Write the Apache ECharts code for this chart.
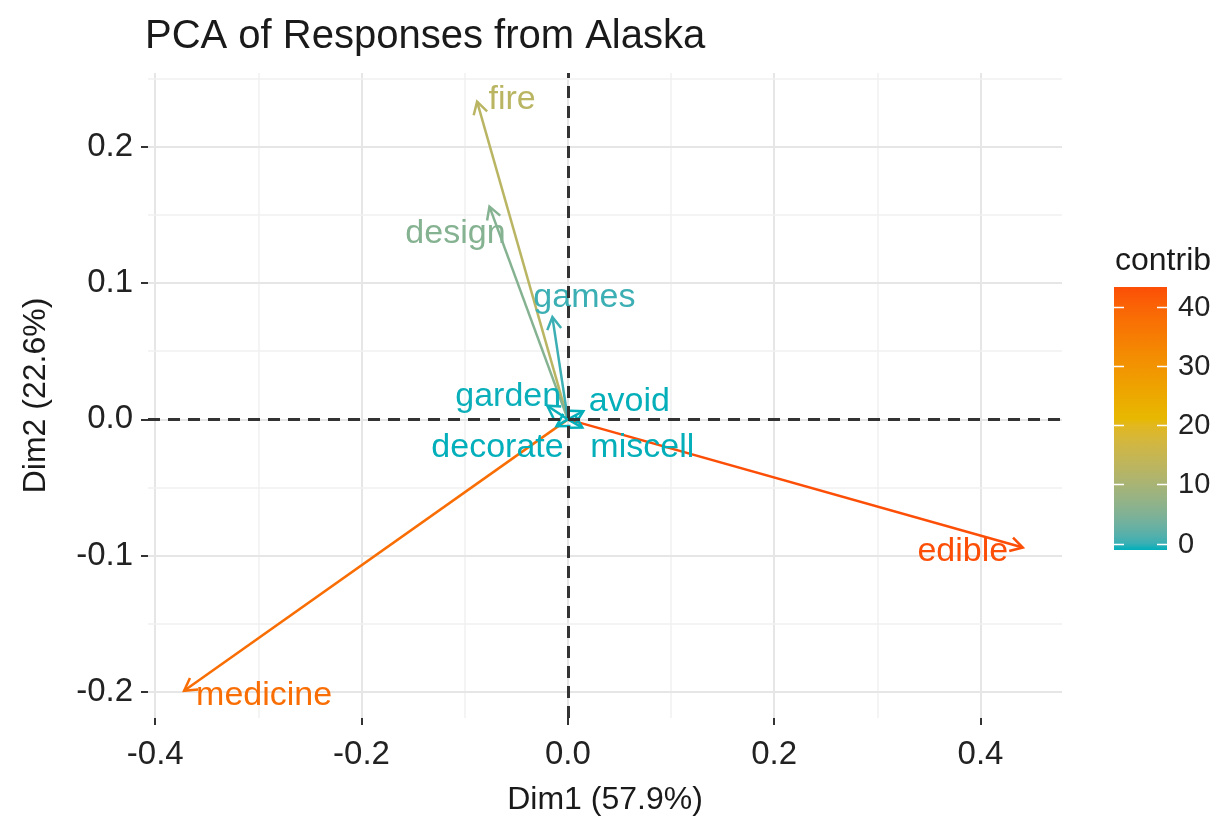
<!DOCTYPE html>
<html>
<head>
<meta charset="utf-8">
<title>PCA of Responses from Alaska</title>
<script src="https://cdn.jsdelivr.net/npm/echarts@6/dist/echarts.min.js"></script>
<style>
    html, body { margin: 0; padding: 0; background: #fff; }
    #chart { width: 1218px; height: 821px; }
</style>
</head>
<body>
<div id="chart"></div>
<script>
// variables (arrow tips)
var variables = ['edible', 'medicine', 'fire', 'design', 'games', 'garden', 'avoid', 'decorate', 'miscell'];
var dim1 = [0.441, -0.372, -0.088, -0.076, -0.015, -0.020, 0.015, -0.011, 0.014];
var dim2 = [-0.094, -0.199, 0.233, 0.156, 0.075, 0.010, 0.006, -0.005, -0.006];
var contrib = [42.2, 37.1, 12.9, 6.3, 1.2, 0.2, 0.1, 0.05, 0.1];

// axis breaks
var xTicks = [-0.4, -0.2, 0, 0.2, 0.4];
var xMinor = [-0.3, -0.1, 0.1, 0.3];
var yTicks = [-0.2, -0.1, 0, 0.1, 0.2];
var yMinor = [-0.15, -0.05, 0.05, 0.15, 0.25];
var legendTicks = [0, 10, 20, 30, 40];

// label nudges in px (repel placement), style only
var labelShift = {
    edible: [-60, 4], medicine: [80, 5], fire: [35, -2], design: [-34, 27], games: [32, -19],
    garden: [-39, -9], avoid: [46, -10], decorate: [-59, 21], miscell: [60, 20]
};

var FONT = '"Liberation Sans", Arial, Helvetica, sans-serif';
var gradientCols = ['#00AFBB', '#E7B800', '#FC4E07'];

// ggplot interpolates gradientn in Lab, do the same
function toLin(c) { c /= 255; return c <= 0.04045 ? c / 12.92 : Math.pow((c + 0.055) / 1.055, 2.4); }
function fromLin(c) {
    c = c <= 0.0031308 ? 12.92 * c : 1.055 * Math.pow(c, 1 / 2.4) - 0.055;
    return Math.max(0, Math.min(255, Math.round(c * 255)));
}
function fLab(t) { return t > 216 / 24389 ? Math.cbrt(t) : (24389 / 27 * t + 16) / 116; }
function fInv(t) { return t * t * t > 216 / 24389 ? t * t * t : (116 * t - 16) / (24389 / 27); }
function hexToLab(hex) {
    var r = toLin(parseInt(hex.slice(1, 3), 16)),
        g = toLin(parseInt(hex.slice(3, 5), 16)),
        b = toLin(parseInt(hex.slice(5, 7), 16));
    var X = (0.4124 * r + 0.3576 * g + 0.1805 * b) / 0.95047,
        Y = (0.2126 * r + 0.7152 * g + 0.0722 * b),
        Z = (0.0193 * r + 0.1192 * g + 0.9505 * b) / 1.08883;
    var fx = fLab(X), fy = fLab(Y), fz = fLab(Z);
    return [116 * fy - 16, 500 * (fx - fy), 200 * (fy - fz)];
}
function labToHex(lab) {
    var fy = (lab[0] + 16) / 116, fx = fy + lab[1] / 500, fz = fy - lab[2] / 200;
    var X = fInv(fx) * 0.95047, Y = fInv(fy), Z = fInv(fz) * 1.08883;
    var r = 3.2406 * X - 1.5372 * Y - 0.4986 * Z,
        g = -0.9689 * X + 1.8758 * Y + 0.0415 * Z,
        b = 0.0557 * X - 0.2040 * Y + 1.0570 * Z;
    return 'rgb(' + fromLin(r) + ',' + fromLin(g) + ',' + fromLin(b) + ')';
}
var labs = gradientCols.map(hexToLab);
var rampColors = [];
for (var i = 0; i <= 40; i++) {
    var t = i / 40 * (labs.length - 1), k = Math.min(Math.floor(t), labs.length - 2), u = t - k;
    rampColors.push(labToHex([0, 1, 2].map(function (j) { return labs[k][j] + (labs[k + 1][j] - labs[k][j]) * u; })));
}

var cMax = Math.max.apply(null, contrib);
var cMin = 0;

var arrowData = variables.map(function (v, i) { return [dim1[i], dim2[i], contrib[i]]; });

var majorLine = { color: '#e6e6e6', width: 2, type: 'solid' };
var minorLine = { color: '#f1f1f1', width: 1.5, type: 'solid' };
var gridLines = [];
xTicks.forEach(function (v) { gridLines.push({ xAxis: v, lineStyle: majorLine }); });
xMinor.forEach(function (v) { gridLines.push({ xAxis: v, lineStyle: minorLine }); });
yTicks.forEach(function (v) { gridLines.push({ yAxis: v, lineStyle: majorLine }); });
yMinor.forEach(function (v) { gridLines.push({ yAxis: v, lineStyle: minorLine }); });

// colour bar legend
var bar = { x: 1114, y: 287, w: 53, h: 263, inset: 6.5 };
function barY(v) { return bar.y + bar.h - bar.inset - (v - cMin) / (cMax - cMin) * (bar.h - 2 * bar.inset); }
var legendGraphics = [{
    type: 'text', left: 1115, top: 245,
    style: { text: 'contrib', fontSize: 32, fontFamily: FONT, fill: '#1a1a1a' }
}, {
    type: 'rect', shape: { x: bar.x, y: bar.y, width: bar.w, height: bar.h },
    style: {
        fill: new echarts.graphic.LinearGradient(0, 1, 0, 0, rampColors.map(function (c, i) {
            return { offset: i / (rampColors.length - 1), color: c };
        }))
    }
}];
legendTicks.forEach(function (v) {
    var y = Math.round(barY(v)) + 0.5;
    legendGraphics.push({ type: 'line', shape: { x1: bar.x, y1: y, x2: bar.x + 10, y2: y }, style: { stroke: '#fff', lineWidth: 1.5 } });
    legendGraphics.push({ type: 'line', shape: { x1: bar.x + bar.w - 10, y1: y, x2: bar.x + bar.w, y2: y }, style: { stroke: '#fff', lineWidth: 1.5 } });
    legendGraphics.push({
        type: 'text', x: bar.x + bar.w + 11, y: y,
        style: { text: String(v), fontSize: 29, fontFamily: FONT, fill: '#222', verticalAlign: 'middle', align: 'left' }
    });
});

var chart = echarts.init(document.getElementById('chart'));
var option = {
    backgroundColor: '#fff',
    animation: false,
    title: {
        text: 'PCA of Responses from Alaska',
        left: 140, top: 12,
        textStyle: { fontSize: 40, fontWeight: 'normal', color: '#1a1a1a', fontFamily: FONT }
    },
    grid: { left: 148, right: 156, top: 73, bottom: 101 },
    xAxis: {
        type: 'value', min: -0.407, max: 0.479,
        name: 'Dim1 (57.9%)', nameLocation: 'middle', nameGap: 66,
        nameTextStyle: { fontSize: 32, color: '#1a1a1a', fontFamily: FONT },
        axisLine: { show: false, onZero: false },
        axisTick: { show: true, customValues: xTicks, length: 7, lineStyle: { color: '#333', width: 2 } },
        axisLabel: {
            customValues: xTicks, margin: 20, fontSize: 33, color: '#222', fontFamily: FONT,
            formatter: function (v) { return v.toFixed(1); }
        },
        splitLine: { show: false }
    },
    yAxis: {
        type: 'value', min: -0.219, max: 0.254,
        name: 'Dim2 (22.6%)', nameLocation: 'middle', nameGap: 96, nameRotate: 90,
        nameTextStyle: { fontSize: 32, color: '#1a1a1a', fontFamily: FONT },
        axisLine: { show: false, onZero: false },
        axisTick: { show: true, customValues: yTicks, length: 7, lineStyle: { color: '#333', width: 2 } },
        axisLabel: {
            customValues: yTicks, margin: 15, fontSize: 33, color: '#222', fontFamily: FONT,
            formatter: function (v) { return v.toFixed(1); }
        },
        splitLine: { show: false }
    },
    visualMap: {
        show: false, type: 'continuous', min: cMin, max: cMax,
        dimension: 2, seriesIndex: 1,
        inRange: { color: rampColors }
    },
    graphic: legendGraphics,
    series: [{
        // panel grid lines, kept under everything
        type: 'line', data: [], z: 0, silent: true,
        markLine: { z: 0, silent: true, symbol: ['none', 'none'], label: { show: false }, data: gridLines }
    }, {
        type: 'custom', z: 2, data: arrowData,
        renderItem: function (params, api) {
            var o = api.coord([0, 0]);
            var p = api.coord([api.value(0), api.value(1)]);
            var color = api.visual('color');
            var ang = Math.atan2(p[1] - o[1], p[0] - o[0]);
            var L = 14, a = Math.PI / 6;
            var h1 = [p[0] - L * Math.cos(ang - a), p[1] - L * Math.sin(ang - a)];
            var h2 = [p[0] - L * Math.cos(ang + a), p[1] - L * Math.sin(ang + a)];
            var name = variables[params.dataIndex];
            var sh = labelShift[name];
            return {
                type: 'group',
                children: [{
                    type: 'line', shape: { x1: o[0], y1: o[1], x2: p[0], y2: p[1] },
                    style: { stroke: color, lineWidth: 2.5 }
                }, {
                    type: 'polyline', shape: { points: [h1, p, h2] },
                    style: { stroke: color, lineWidth: 2.5, fill: 'none' }
                }, {
                    type: 'text', x: p[0] + sh[0], y: p[1] + sh[1],
                    style: {
                        text: name, fill: color, fontSize: 34, fontFamily: FONT,
                        align: 'center', verticalAlign: 'middle'
                    }
                }]
            };
        }
    }, {
        // zero reference lines
        type: 'line', data: [], z: 5, silent: true,
        markLine: {
            z: 5, silent: true, symbol: ['none', 'none'], label: { show: false },
            lineStyle: { color: '#333', width: 3, type: [12, 8] },
            data: [{ xAxis: 0 }, { yAxis: 0 }]
        }
    }]
};
chart.setOption(option);
</script>
</body>
</html>
